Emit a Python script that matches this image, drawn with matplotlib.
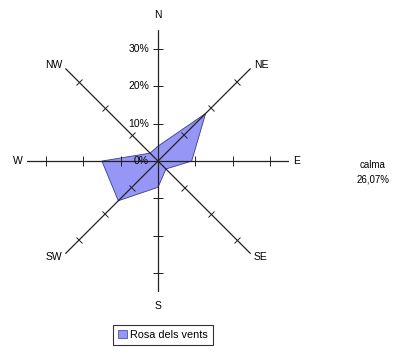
import matplotlib.pyplot as plt
import matplotlib.patches as patches
from matplotlib.markers import MarkerStyle
from matplotlib.transforms import Affine2D
import numpy as np

# Rosa dels vents - percentatge per direccio
directions = ['N', 'NE', 'E', 'SE', 'S', 'SW', 'W', 'NW']
bearings = [0, 45, 90, 135, 180, 225, 270, 315]
values = [4, 18, 9, 3, 7, 15, 15, 3]
ring_ticks = [10, 20, 30]
tick_labels = ['0%', '10%', '20%', '30%']
r_max = 35
calm_text = 'calma\n26,07%'

fill_color = '#9696f6'
edge_color = '#3a3a8a'
font = 'Liberation Sans'

fig = plt.figure(figsize=(4.11, 3.54), dpi=100)
ax = fig.add_axes([0.0657, 0.175, 0.6375, 0.740], projection='polar')
ax.set_theta_zero_location('N')
ax.set_theta_direction(-1)
ax.set_ylim(0, r_max)
ax.grid(False)
ax.spines['polar'].set_visible(False)
ax.set_xticks([])
ax.set_yticks([])
ax.patch.set_alpha(0)

theta = np.deg2rad(bearings)

# polygon
th_closed = np.append(theta, theta[0])
v_closed = np.append(values, values[0])
ax.fill(th_closed, v_closed, facecolor=fill_color, edgecolor=edge_color,
        linewidth=0.6, zorder=2)

# axes and ticks (tick marks perpendicular to each axis)
for b, t in zip(bearings, theta):
    ax.plot([t, t], [0, r_max], color='#222222', linewidth=0.9, zorder=3)
    mk = MarkerStyle('|', transform=Affine2D().rotate_deg(90 - b))
    ax.plot([t] * len(ring_ticks), ring_ticks, linestyle='none',
            marker=mk, markersize=7, markeredgewidth=0.7,
            color='#222222', zorder=3, snap=False)

# direction labels
for name, b, t in zip(directions, bearings, theta):
    if b == 0:
        ha, va, r = 'center', 'bottom', 37.8
    elif b == 180:
        ha, va, r = 'center', 'top', 37.5
    else:
        ha = 'left' if b < 180 else 'right'
        va = 'center'
        r = 36.2
    ax.text(t, r, name, ha=ha, va=va, fontsize=7.5, family=font, zorder=5)

# radial tick labels on N axis
for r, lab in zip([0] + ring_ticks, tick_labels):
    ax.annotate(lab, xy=(0, r), xytext=(-9, 0), textcoords='offset pixels',
                ha='right', va='center', fontsize=7.5, family=font, zorder=5)

fig.text(373 / 411, 1 - 172 / 354, calm_text, ha='center', va='center',
         fontsize=7, family=font, linespacing=1.5)

handle = patches.Patch(facecolor=fill_color, edgecolor=edge_color,
                       linewidth=0.5, label='Rosa dels vents')
leg = fig.legend(handles=[handle], loc='center', bbox_to_anchor=(163 / 411, 1 - 335 / 354),
                 frameon=True, fancybox=False, edgecolor='black', handlelength=0.8,
                 handleheight=0.8, handletextpad=0.3, borderpad=0.45,
                 prop={'family': font, 'size': 7.8})
leg.get_frame().set_linewidth(0.8)

fig.savefig('out.png', dpi=100)
